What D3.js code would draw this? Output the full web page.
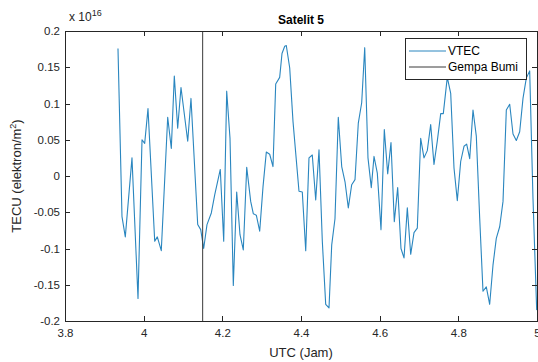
<!DOCTYPE html>
<html>
<head>
<meta charset="utf-8">
<script src="https://cdn.jsdelivr.net/npm/d3@7"></script>
<style>
  body { margin: 0; background: #fff; }
  svg { font-family: "Liberation Sans", Arial, Helvetica, sans-serif; }
  .axis path, .axis line { stroke: #262626; shape-rendering: crispEdges; }
  .axis text { fill: #262626; font-size: 11.5px; }
</style>
</head>
<body>
<div id="chart"></div>
<script>
// time in hours UTC, VTEC in units of 1e16 electrons/m^2
const timeUtc = [
  3.9347, 3.9449, 3.9533, 3.9703, 3.9856, 3.9958, 4.0026, 4.0110, 4.0281, 4.0347,
  4.0448, 4.0611, 4.0703, 4.0779, 4.0865, 4.0949, 4.1120, 4.1203, 4.1374, 4.1450,
  4.1526, 4.1610, 4.1720, 4.1806, 4.1948, 4.2035, 4.2111, 4.2195, 4.2279, 4.2365,
  4.2449, 4.2533, 4.2620, 4.2721, 4.2787, 4.2864, 4.2950, 4.3034, 4.3118, 4.3204,
  4.3288, 4.3357, 4.3458, 4.3517, 4.3586, 4.3626, 4.3713, 4.3797, 4.3949, 4.4033,
  4.4120, 4.4203, 4.4287, 4.4374, 4.4458, 4.4542, 4.4628, 4.4712, 4.4781, 4.4864,
  4.4948, 4.5035, 4.5119, 4.5203, 4.5289, 4.5373, 4.5457, 4.5543, 4.5620, 4.5703,
  4.5787, 4.5856, 4.5940, 4.6034, 4.6118, 4.6204, 4.6288, 4.6372, 4.6458, 4.6542,
  4.6619, 4.6703, 4.6789, 4.6873, 4.6957, 4.7043, 4.7127, 4.7211, 4.7297, 4.7381,
  4.7465, 4.7552, 4.7618, 4.7719, 4.7806, 4.7890, 4.7974, 4.8060, 4.8144, 4.8212,
  4.8289, 4.8373, 4.8457, 4.8543, 4.8627, 4.8711, 4.8797, 4.8881, 4.8965, 4.9051,
  4.9136, 4.9220, 4.9306, 4.9390, 4.9474, 4.9560, 4.9644, 4.9728, 4.9814, 4.9898,
  4.9992
];
const vtec = [
  0.176, -0.056, -0.084, 0.025, -0.169, 0.050, 0.045, 0.093, -0.090, -0.084,
  -0.103, 0.081, 0.038, 0.138, 0.066, 0.122, 0.048, 0.107, -0.067, -0.074,
  -0.100, -0.067, -0.051, -0.026, 0.009, -0.090, 0.117, 0.052, -0.151, -0.022,
  -0.081, -0.102, 0.012, -0.035, -0.052, -0.054, -0.076, -0.015, 0.033, 0.030,
  0.013, 0.127, 0.136, 0.169, 0.179, 0.180, 0.149, 0.075, -0.021, -0.022,
  -0.103, 0.025, 0.029, -0.033, 0.036, -0.090, -0.177, -0.182, -0.095, -0.059,
  0.081, 0.013, -0.008, -0.044, -0.012, -0.005, 0.073, 0.101, 0.177, 0.025,
  -0.016, 0.027, 0.004, -0.074, 0.064, 0.003, 0.046, -0.063, -0.016, -0.100,
  -0.113, -0.044, -0.108, -0.078, -0.072, 0.052, 0.025, 0.035, 0.071, 0.016,
  0.048, 0.086, 0.086, 0.136, 0.114, 0.011, -0.034, 0.020, 0.041, 0.044,
  0.024, 0.091, 0.055, -0.058, -0.159, -0.153, -0.177, -0.123, -0.086, -0.070,
  -0.035, 0.091, 0.099, 0.058, 0.049, 0.061, 0.107, 0.135, 0.145, -0.031,
  -0.185
];
const gempaTime = 4.15;
const xTicks = [3.8, 4, 4.2, 4.4, 4.6, 4.8, 5];
const yTicks = [-0.2, -0.15, -0.1, -0.05, 0, 0.05, 0.1, 0.15, 0.2];
const legendLabels = ['VTEC', 'Gempa Bumi'];

const width = 538, height = 362;
const margin = {top: 31, right: 1, bottom: 41, left: 65};
const lineColor = '#2a86bf';
const quakeColor = '#3a3a3a';

const svg = d3.select('#chart')
  .append('svg')
  .attr('width', width)
  .attr('height', height);

const x = d3.scaleLinear()
  .domain([3.8, 5])
  .range([margin.left, width - margin.right]);

const y = d3.scaleLinear()
  .domain([-0.2, 0.2])
  .range([height - margin.bottom, margin.top]);

const fmt = d => String(+d.toFixed(2));

svg.append('clipPath')
  .attr('id', 'plot-clip')
  .append('rect')
  .attr('x', margin.left)
  .attr('y', margin.top)
  .attr('width', width - margin.left - margin.right)
  .attr('height', height - margin.top - margin.bottom);

// data line
const line = d3.line()
  .x((d, i) => x(timeUtc[i]))
  .y(d => y(d));

svg.append('path')
  .datum(vtec)
  .attr('clip-path', 'url(#plot-clip)')
  .attr('fill', 'none')
  .attr('stroke', lineColor)
  .attr('stroke-width', 1.1)
  .attr('stroke-linejoin', 'round')
  .attr('d', line);

// earthquake marker
svg.append('line')
  .attr('x1', x(gempaTime)).attr('x2', x(gempaTime))
  .attr('y1', y(-0.2)).attr('y2', y(0.2))
  .attr('stroke', quakeColor)
  .attr('stroke-width', 1);

// axes, ticks pointing inward like matlab
svg.append('g')
  .attr('class', 'axis')
  .attr('transform', 'translate(0,' + (height - margin.bottom) + ')')
  .call(d3.axisBottom(x).tickValues(xTicks).tickFormat(fmt).tickSizeInner(-5).tickSizeOuter(0).tickPadding(8));

svg.append('g')
  .attr('class', 'axis')
  .attr('transform', 'translate(0,' + margin.top + ')')
  .call(d3.axisTop(x).tickValues(xTicks).tickFormat('').tickSizeInner(-5).tickSizeOuter(0));

svg.append('g')
  .attr('class', 'axis')
  .attr('transform', 'translate(' + margin.left + ',0)')
  .call(d3.axisLeft(y).tickValues(yTicks).tickFormat(fmt).tickSizeInner(-5).tickSizeOuter(0).tickPadding(5));

svg.append('g')
  .attr('class', 'axis')
  .attr('transform', 'translate(' + (width - margin.right) + ',0)')
  .call(d3.axisRight(y).tickValues(yTicks).tickFormat('').tickSizeInner(-5).tickSizeOuter(0));

// exponent label
const expo = svg.append('text')
  .attr('x', margin.left + 4)
  .attr('y', 21)
  .attr('fill', '#262626')
  .style('font-size', '12px');
expo.append('tspan').text('x 10');
expo.append('tspan').attr('dy', -5).style('font-size', '9px').text('16');

// title
svg.append('text')
  .attr('x', (margin.left + width - margin.right) / 2)
  .attr('y', 24)
  .attr('text-anchor', 'middle')
  .attr('fill', '#000')
  .style('font-size', '12px')
  .style('font-weight', 'bold')
  .text('Satelit 5');

// axis labels
svg.append('text')
  .attr('x', (margin.left + width - margin.right) / 2)
  .attr('y', 357)
  .attr('text-anchor', 'middle')
  .attr('fill', '#262626')
  .style('font-size', '13px')
  .text('UTC (Jam)');

const yLabel = svg.append('text')
  .attr('transform', 'translate(21,' + ((margin.top + height - margin.bottom) / 2) + ') rotate(-90)')
  .attr('text-anchor', 'middle')
  .attr('fill', '#262626')
  .style('font-size', '13px');
yLabel.append('tspan').text('TECU (elektron/m');
yLabel.append('tspan').attr('dy', -5).style('font-size', '9px').text('2');
yLabel.append('tspan').attr('dy', 5).text(')');

// legend
const legend = svg.append('g').attr('transform', 'translate(405,38)');
legend.append('rect')
  .attr('width', 121)
  .attr('height', 41)
  .attr('fill', '#fff')
  .attr('stroke', '#262626')
  .attr('stroke-width', 1)
  .attr('shape-rendering', 'crispEdges');

const legendColors = [lineColor, quakeColor];
legendLabels.forEach((label, i) => {
  const rowY = 13 + i * 16;
  legend.append('line')
    .attr('x1', 4).attr('x2', 41)
    .attr('y1', rowY).attr('y2', rowY)
    .attr('stroke', legendColors[i])
    .attr('stroke-width', 1);
  legend.append('text')
    .attr('x', 43)
    .attr('y', rowY + 4)
    .attr('fill', '#000')
    .style('font-size', '12px')
    .text(label);
});
</script>
</body>
</html>
